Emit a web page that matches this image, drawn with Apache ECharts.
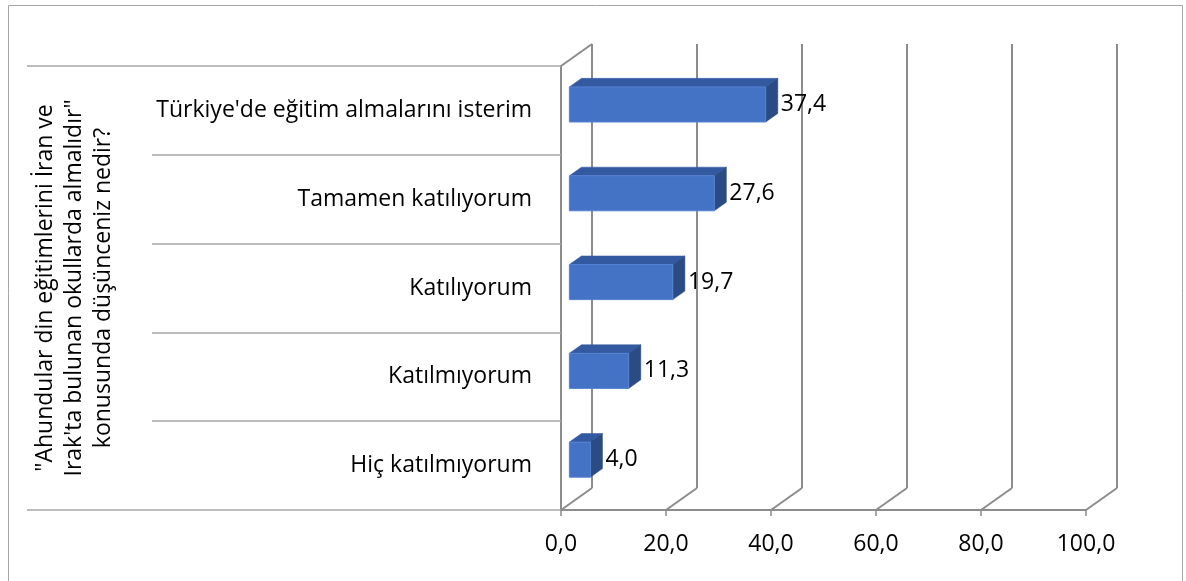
<!DOCTYPE html>
<html>
<head>
<meta charset="utf-8">
<script src="https://cdn.jsdelivr.net/npm/echarts@6/dist/echarts.min.js"></script>
<style>
  html, body { margin: 0; padding: 0; background: #fff; }
  #chart { width: 1186px; height: 581px; }
</style>
</head>
<body>
<div id="chart"></div>
<script>
// Survey answers, top to bottom
const categories = [
  "Türkiye'de eğitim almalarını isterim",
  "Tamamen katılıyorum",
  "Katılıyorum",
  "Katılmıyorum",
  "Hiç katılmıyorum"
];
// Percentages
const values = [37.4, 27.6, 19.7, 11.3, 4.0];
// Value axis ticks and their labels
const tickValues = [0, 20, 40, 60, 80, 100];
const tickLabels = ['0,0', '20,0', '40,0', '60,0', '80,0', '100,0'];
// Question: outer level of the category axis
const questionLines = [
  '"Ahundular din eğitimlerini İran ve',
  "Irak'ta bulunan okullarda almalıdır\"",
  'konusunda düşünceniz nedir?'
];

// Oblique 3D layout: front plane and back wall are two grids offset by a depth vector
const FRONT = { left: 561, top: 66, width: 525, height: 444 };
const DEPTH = { dx: 31, dy: -22 };
const BAR_FRONT = 0.27;   // bar front face, fraction of depth
const BAR_BACK = 0.66;    // bar back face, fraction of depth
const BAR_THICK = 0.395;  // bar height, fraction of category band

const FONT = 'Open Sans';
const GRID_COLOR = '#8c8c8c';
const SEP_COLOR = '#a6a6a6';
const fmt = v => v.toFixed(1).replace('.', ',');

const chart = echarts.init(document.getElementById('chart'), null, { renderer: 'canvas' });

function floorLines(params, api) {
  const v = api.value(0);
  const cs = params.coordSys;
  const x = api.coord([v, 0])[0];
  const bottom = cs.y + cs.height;
  const style = { stroke: GRID_COLOR, lineWidth: 2 };
  const children = [{
    type: 'line',
    shape: { x1: x, y1: bottom, x2: x + DEPTH.dx, y2: bottom + DEPTH.dy },
    style: style
  }];
  if (params.dataIndex === 0) {
    // top edge of the left wall
    children.push({
      type: 'line',
      shape: { x1: cs.x, y1: cs.y, x2: cs.x + DEPTH.dx, y2: cs.y + DEPTH.dy },
      style: style
    });
  }
  return { type: 'group', children: children };
}

function bar3d(params, api) {
  const v = api.value(0);
  const cat = api.value(1);
  const p0 = api.coord([0, cat]);
  const p1 = api.coord([v, cat]);
  const band = api.size([0, 1])[1];
  const h = band * BAR_THICK;
  const fx = DEPTH.dx * BAR_FRONT, fy = DEPTH.dy * BAR_FRONT;
  const bx = DEPTH.dx * BAR_BACK, by = DEPTH.dy * BAR_BACK;
  const xl = p0[0] + fx, xr = p1[0] + fx;
  const yt = p0[1] + fy - h / 2, yb = p0[1] + fy + h / 2;
  const ddx = bx - fx, ddy = by - fy;
  return {
    type: 'group',
    children: [
      {
        type: 'polygon',
        shape: { points: [[xl, yt], [xr, yt], [xr + ddx, yt + ddy], [xl + ddx, yt + ddy]] },
        style: { fill: '#3359a0', stroke: '#3359a0', lineWidth: 0.5 }
      },
      {
        type: 'polygon',
        shape: { points: [[xr, yt], [xr + ddx, yt + ddy], [xr + ddx, yb + ddy], [xr, yb]] },
        style: { fill: '#2b4b85', stroke: '#2b4b85', lineWidth: 0.5 }
      },
      {
        type: 'rect',
        shape: { x: xl, y: yt, width: xr - xl, height: yb - yt },
        style: { fill: '#4472c4', stroke: '#5582d2', lineWidth: 1 }
      },
      {
        type: 'text',
        style: {
          text: fmt(v),
          x: xr + ddx + 3,
          y: p0[1] + fy,
          align: 'left',
          verticalAlign: 'middle',
          fill: '#000',
          font: '23px "' + FONT + '"'
        }
      }
    ]
  };
}

const option = {
  animation: false,
  backgroundColor: '#fff',
  grid: [
    { left: FRONT.left, top: FRONT.top, width: FRONT.width, height: FRONT.height },
    { left: FRONT.left + DEPTH.dx, top: FRONT.top + DEPTH.dy, width: FRONT.width, height: FRONT.height }
  ],
  xAxis: [
    {
      gridIndex: 0, type: 'value', min: 0, max: 100, interval: 20,
      axisLine: { show: true, lineStyle: { color: GRID_COLOR, width: 2 } },
      axisTick: { show: true, length: 6, lineStyle: { color: GRID_COLOR, width: 1.5 } },
      axisLabel: {
        color: '#000', fontFamily: FONT, fontSize: 23, margin: 23,
        formatter: v => tickLabels[tickValues.indexOf(v)]
      },
      splitLine: { show: false }
    },
    {
      gridIndex: 1, type: 'value', min: 0, max: 100, interval: 20,
      axisLine: { show: false }, axisTick: { show: false }, axisLabel: { show: false },
      splitLine: { show: true, showMinLine: true, showMaxLine: true, lineStyle: { color: GRID_COLOR, width: 2 } }
    }
  ],
  yAxis: [
    {
      // inner level: answers
      gridIndex: 0, type: 'category', data: categories, inverse: true,
      axisLine: { show: true, lineStyle: { color: GRID_COLOR, width: 2 } },
      axisTick: { show: true, interval: 0, length: 409, lineStyle: { color: SEP_COLOR, width: 1.5 } },
      axisLabel: { color: '#000', fontFamily: FONT, fontSize: 23, margin: 29 }
    },
    { gridIndex: 1, type: 'category', data: categories, inverse: true, show: false },
    {
      // outer level: the question
      gridIndex: 0, type: 'category', data: [questionLines.join(' ')], position: 'left',
      axisLine: { show: false },
      axisTick: { show: true, interval: 0, length: 534, lineStyle: { color: SEP_COLOR, width: 1.5 } },
      axisLabel: { show: false },
      name: questionLines.join('\n'),
      nameLocation: 'middle',
      nameRotate: 90,
      nameGap: 443,
      nameTextStyle: { color: '#000', fontFamily: FONT, fontSize: 23, lineHeight: 29, align: 'center' }
    }
  ],
  series: [
    {
      type: 'custom', xAxisIndex: 0, yAxisIndex: 0, z: 2,
      data: tickValues.map(v => [v, 0]),
      encode: { x: 0, y: 1 },
      renderItem: floorLines,
      silent: true
    },
    {
      type: 'custom', xAxisIndex: 0, yAxisIndex: 0, z: 5,
      data: values.map((v, i) => [v, i]),
      encode: { x: 0, y: 1 },
      renderItem: bar3d
    }
  ],
  graphic: [
    {
      type: 'rect', z: 0, silent: true,
      shape: { x: 8.5, y: 5.5, width: 1174, height: 590 },
      style: { fill: 'none', stroke: '#a6a6a6', lineWidth: 1 }
    }
  ]
};

chart.setOption(option);
</script>
</body>
</html>
